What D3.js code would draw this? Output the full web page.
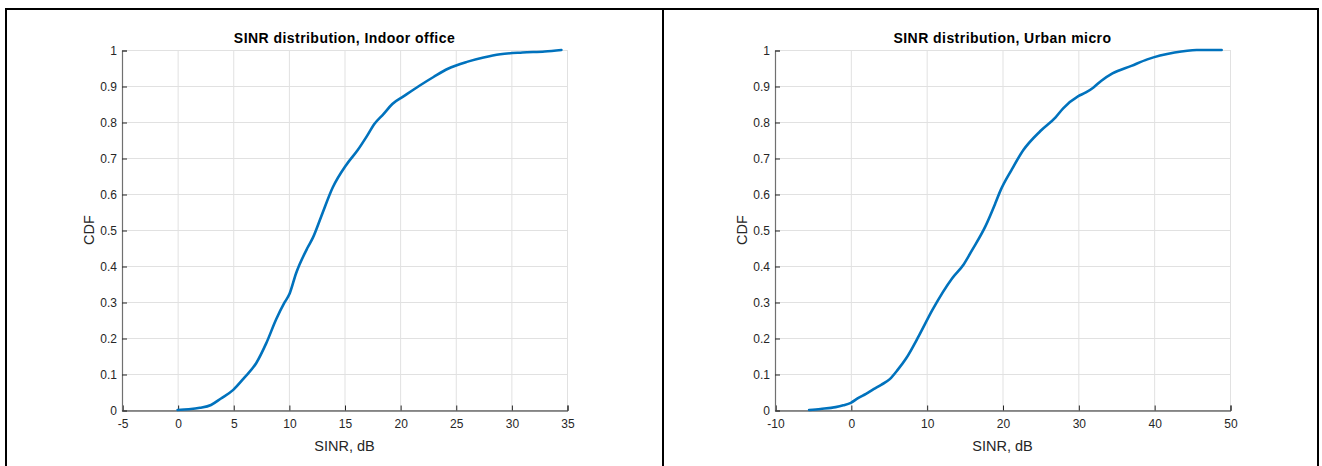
<!DOCTYPE html>
<html>
<head>
<meta charset="utf-8">
<script src="https://cdn.jsdelivr.net/npm/d3@7"></script>
<style>
  html, body { margin: 0; padding: 0; background: #fff; }
  svg { display: block; }
  text { font-family: "Liberation Sans", Arial, sans-serif; fill: #262626; }
</style>
</head>
<body>
<svg id="chart" width="1322" height="466"></svg>
<script>
// ---- data ----
const yTicks = [0, 0.1, 0.2, 0.3, 0.4, 0.5, 0.6, 0.7, 0.8, 0.9, 1];
const yTickLabels = ["0", "0.1", "0.2", "0.3", "0.4", "0.5", "0.6", "0.7", "0.8", "0.9", "1"];

const officeTitle = "SINR distribution, Indoor office";
const officeXTicks = [-5, 0, 5, 10, 15, 20, 25, 30, 35];
const officeSinr = [0, 1, 2, 3, 3.9, 5, 6, 7.06, 7.96, 8.86, 9.6, 10.05, 10.65, 11.7, 12.15, 12.9, 13.94, 15.14, 16.19, 17, 17.7, 18.5, 19.3, 20.3, 21.7, 23, 24.3, 26, 27.5, 29, 31, 33, 34.5];
const officeCdf  = [0, 0.002, 0.006, 0.014, 0.032, 0.056, 0.09, 0.13, 0.185, 0.252, 0.298, 0.322, 0.38, 0.452, 0.478, 0.537, 0.618, 0.68, 0.722, 0.76, 0.795, 0.822, 0.85, 0.871, 0.9, 0.925, 0.948, 0.967, 0.979, 0.988, 0.993, 0.996, 1.0];

const urbanTitle = "SINR distribution, Urban micro";
const urbanXTicks = [-10, 0, 10, 20, 30, 40, 50];
const urbanSinr = [-5.5, -4, -2, -1, 0, 0.95, 2, 3, 4, 5.1, 6.2, 7.28, 9.02, 10.76, 13.37, 14.9, 15.99, 17.74, 19.05, 19.7, 21.2, 22.75, 25, 27, 28, 30, 31, 32, 33, 34.5, 37, 39.1, 42.7, 45.6, 48.9];
const urbanCdf  = [0, 0.003, 0.008, 0.013, 0.02, 0.033, 0.045, 0.058, 0.07, 0.085, 0.112, 0.143, 0.208, 0.278, 0.366, 0.405, 0.444, 0.51, 0.574, 0.608, 0.667, 0.722, 0.775, 0.813, 0.838, 0.872, 0.882, 0.896, 0.914, 0.935, 0.956, 0.974, 0.993, 1.0, 1.0];

const xLabel = "SINR, dB";
const yLabel = "CDF";

// ---- drawing ----
const svg = d3.select("#chart");

// outer frame and divider
svg.append("rect").attr("x", 6).attr("y", 9).attr("width", 1312).attr("height", 500)
  .attr("fill", "none").attr("stroke", "#000").attr("stroke-width", 2);
svg.append("line").attr("x1", 663).attr("x2", 663).attr("y1", 9).attr("y2", 466)
  .attr("stroke", "#000").attr("stroke-width", 2);

const fmtTick = d => String(d);

function panel(cfg) {
  const x = d3.scaleLinear().domain(cfg.xDomain).range([cfg.left, cfg.right]);
  const y = d3.scaleLinear().domain([0, 1]).range([410, 50]);
  const g = svg.append("g");

  // grid
  g.append("g").selectAll("line").data(cfg.xTicks).join("line")
    .attr("x1", d => x(d) + 0.5).attr("x2", d => x(d) + 0.5)
    .attr("y1", y(0)).attr("y2", y(1))
    .attr("stroke", "#e1e1e1").attr("stroke-width", 1);
  g.append("g").selectAll("line").data(yTicks).join("line")
    .attr("x1", x(cfg.xDomain[0])).attr("x2", x(cfg.xDomain[1]))
    .attr("y1", d => y(d) + 0.5).attr("y2", d => y(d) + 0.5)
    .attr("stroke", "#e1e1e1").attr("stroke-width", 1);

  // axes (MATLAB style, ticks inward)
  const xAxis = d3.axisBottom(x).tickValues(cfg.xTicks).tickSize(-5).tickPadding(9)
    .tickFormat(fmtTick);
  const gx = g.append("g").attr("transform", "translate(0.5,410.5)").call(xAxis);
  const yAxis = d3.axisLeft(y).tickValues(yTicks).tickSize(-5).tickPadding(5)
    .tickFormat((d, i) => yTickLabels[i]);
  const gy = g.append("g").attr("transform", `translate(${cfg.left},0.5)`).call(yAxis);
  [gx, gy].forEach(a => {
    a.select(".domain").attr("stroke", "#262626").attr("stroke-width", 1);
    a.selectAll(".tick line").attr("stroke", "#262626");
    a.selectAll(".tick text").attr("fill", "#262626")
      .style("font-family", '"Liberation Sans", Arial, sans-serif').style("font-size", "12px");
  });
  gy.select(".domain").attr("stroke", "#707070").attr("stroke-width", 1.2);

  // curve
  const pts = cfg.xs.map((v, i) => [v, cfg.ys[i]]);
  g.append("path").datum(pts)
    .attr("fill", "none").attr("stroke", "#0072BD").attr("stroke-width", 2.6)
    .attr("stroke-linejoin", "round").attr("stroke-linecap", "round")
    .attr("d", d3.line().x(d => x(d[0])).y(d => y(d[1])).curve(d3.curveMonotoneX));

  // title
  const cx = (cfg.left + cfg.right) / 2;
  g.append("text").attr("x", cx).attr("y", 43).attr("text-anchor", "middle")
    .style("font-size", "14px").style("font-weight", "bold").style("letter-spacing", "0.45px")
    .style("fill", "#000")
    .text(cfg.title);
  // x label
  g.append("text").attr("x", cx).attr("y", 451).attr("text-anchor", "middle")
    .style("font-size", "14.5px").text(xLabel);
  // y label
  g.append("text")
    .attr("transform", `translate(${cfg.left - 28},230) rotate(-90)`)
    .attr("text-anchor", "middle").style("font-size", "14.5px").text(yLabel);
}

panel({ title: officeTitle, xDomain: [-5, 35], xTicks: officeXTicks, left: 122, right: 567,
        xs: officeSinr, ys: officeCdf });
panel({ title: urbanTitle, xDomain: [-10, 50], xTicks: urbanXTicks, left: 775, right: 1230,
        xs: urbanSinr, ys: urbanCdf });
</script>
</body>
</html>
